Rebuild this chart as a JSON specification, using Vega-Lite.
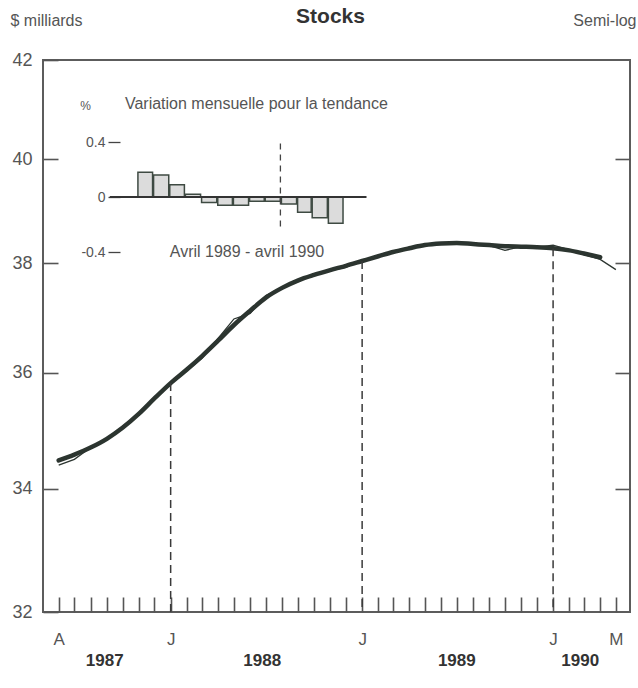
{
  "$schema": "https://vega.github.io/schema/vega-lite/v6.json",
  "width": 587,
  "height": 552,
  "autosize": {"type": "none"},
  "padding": {"left": 43, "top": 60, "right": 8, "bottom": 76},
  "background": "white",
  "config": {
    "font": "Liberation Sans",
    "view": {"stroke": "#5c5c5c", "strokeWidth": 2},
    "axis": {"grid": false, "domain": false, "labelFont": "Liberation Sans", "titleFont": "Liberation Sans"}
  },
  "datasets": {
    "series": [
      {"date": "1987-06-01", "trend": 34.48, "actual": 34.40},
      {"date": "1987-07-01", "trend": 34.58, "actual": 34.50},
      {"date": "1987-08-01", "trend": 34.70, "actual": 34.70},
      {"date": "1987-09-01", "trend": 34.85, "actual": 34.84},
      {"date": "1987-10-01", "trend": 35.04, "actual": 35.06},
      {"date": "1987-11-01", "trend": 35.28, "actual": 35.27},
      {"date": "1987-12-01", "trend": 35.55, "actual": 35.57},
      {"date": "1988-01-01", "trend": 35.82, "actual": 35.80},
      {"date": "1988-02-01", "trend": 36.06, "actual": 36.04},
      {"date": "1988-03-01", "trend": 36.30, "actual": 36.26},
      {"date": "1988-04-01", "trend": 36.58, "actual": 36.62},
      {"date": "1988-05-01", "trend": 36.86, "actual": 36.97},
      {"date": "1988-06-01", "trend": 37.12, "actual": 37.07},
      {"date": "1988-07-01", "trend": 37.36, "actual": 37.40},
      {"date": "1988-08-01", "trend": 37.54, "actual": 37.55},
      {"date": "1988-09-01", "trend": 37.68, "actual": 37.66},
      {"date": "1988-10-01", "trend": 37.78, "actual": 37.80},
      {"date": "1988-11-01", "trend": 37.87, "actual": 37.86},
      {"date": "1988-12-01", "trend": 37.95, "actual": 37.92},
      {"date": "1989-01-01", "trend": 38.04, "actual": 38.06},
      {"date": "1989-02-01", "trend": 38.13, "actual": 38.12},
      {"date": "1989-03-01", "trend": 38.21, "actual": 38.23},
      {"date": "1989-04-01", "trend": 38.28, "actual": 38.29},
      {"date": "1989-05-01", "trend": 38.34, "actual": 38.33},
      {"date": "1989-06-01", "trend": 38.37, "actual": 38.38},
      {"date": "1989-07-01", "trend": 38.38, "actual": 38.37},
      {"date": "1989-08-01", "trend": 38.36, "actual": 38.38},
      {"date": "1989-09-01", "trend": 38.34, "actual": 38.33},
      {"date": "1989-10-01", "trend": 38.32, "actual": 38.24},
      {"date": "1989-11-01", "trend": 38.31, "actual": 38.31},
      {"date": "1989-12-01", "trend": 38.30, "actual": 38.30},
      {"date": "1990-01-01", "trend": 38.28, "actual": 38.34},
      {"date": "1990-02-01", "trend": 38.24, "actual": 38.25},
      {"date": "1990-03-01", "trend": 38.18, "actual": 38.16},
      {"date": "1990-04-01", "trend": 38.11, "actual": 38.07},
      {"date": "1990-05-01", "trend": null, "actual": 37.88}
    ],
    "janlines": [
      {"date": "1988-01-01", "level": 35.82},
      {"date": "1989-01-01", "level": 38.04},
      {"date": "1990-01-01", "level": 38.28}
    ],
    "changes": [
      {"month": "1989-04-01", "pct": 0.18},
      {"month": "1989-05-01", "pct": 0.16},
      {"month": "1989-06-01", "pct": 0.09},
      {"month": "1989-07-01", "pct": 0.02},
      {"month": "1989-08-01", "pct": -0.04},
      {"month": "1989-09-01", "pct": -0.06},
      {"month": "1989-10-01", "pct": -0.06},
      {"month": "1989-11-01", "pct": -0.03},
      {"month": "1989-12-01", "pct": -0.03},
      {"month": "1990-01-01", "pct": -0.05},
      {"month": "1990-02-01", "pct": -0.11},
      {"month": "1990-03-01", "pct": -0.15},
      {"month": "1990-04-01", "pct": -0.19}
    ]
  },
  "layer": [
    {
      "layer": [
        {
          "data": {"name": "series"},
          "mark": {"type": "line", "color": "#2c3530", "strokeWidth": 4.5, "strokeCap": "round", "interpolate": "monotone"},
          "encoding": {
            "x": {
              "field": "date", "type": "temporal",
              "scale": {"type": "utc", "domain": [{"year": 1987, "month": 5, "date": 2, "utc": true}, {"year": 1990, "month": 5, "date": 28, "utc": true}]},
              "axis": {
                "orient": "bottom", "title": null,
                "tickCount": {"interval": "month", "step": 1},
                "tickSize": -15, "tickColor": "#555", "tickWidth": 1.6,
                "labelPadding": 34, "labelFontSize": 17, "labelColor": "#555",
                "labelOverlap": false, "labelFlush": false, "labelAlign": "center",
                "labelExpr": "utcFormat(datum.value, '%Y-%m') == '1987-06' ? 'A' : (utcmonth(datum.value) == 0 ? 'J' : (utcFormat(datum.value, '%Y-%m') == '1990-05' ? 'M' : ''))"
              }
            },
            "y": {
              "field": "trend", "type": "quantitative",
              "scale": {"type": "log", "domain": [32, 42], "nice": false},
              "axis": {
                "orient": "left", "values": [32, 34, 36, 38, 40, 42], "format": "d",
                "tickSize": -15, "tickColor": "#555", "tickWidth": 1.6,
                "labelPadding": 26, "labelFontSize": 18, "labelColor": "#555",
                "labelOverlap": false, "labelFlush": false,
                "title": "$ milliards", "titleAngle": 0, "titleAlign": "left", "titleBaseline": "alphabetic",
                "titleX": -33, "titleY": -35, "titleFontSize": 16, "titleFontWeight": "normal", "titleColor": "#555"
              }
            }
          }
        },
        {
          "data": {"name": "series"},
          "mark": {"type": "line", "color": "#2c3530", "strokeWidth": 1.3},
          "encoding": {
            "x": {
              "field": "date", "type": "temporal",
              "scale": {"type": "utc", "domain": [{"year": 1987, "month": 5, "date": 2, "utc": true}, {"year": 1990, "month": 5, "date": 28, "utc": true}]},
              "axis": {
                "orient": "bottom", "title": null, "ticks": false,
                "values": [
                  {"year": 1987, "month": 8, "date": 27, "utc": true},
                  {"year": 1988, "month": 6, "date": 23, "utc": true},
                  {"year": 1989, "month": 6, "date": 30, "utc": true},
                  {"year": 1990, "month": 2, "date": 21, "utc": true}
                ],
                "labelExpr": "utcFormat(datum.value, '%Y')",
                "labelPadding": 40, "labelFontSize": 17, "labelFontWeight": "bold", "labelColor": "#333",
                "labelOverlap": false, "labelFlush": false
              }
            },
            "y": {
              "field": "actual", "type": "quantitative",
              "scale": {"type": "log", "domain": [32, 42], "nice": false},
              "axis": {
                "orient": "right", "values": [34, 36, 38, 40], "labels": false,
                "tickSize": -15, "tickColor": "#555", "tickWidth": 1.6,
                "title": "Semi-log", "titleAngle": 0, "titleAlign": "right", "titleBaseline": "alphabetic",
                "titleX": 6, "titleY": -35, "titleFontSize": 16, "titleFontWeight": "normal", "titleColor": "#555"
              }
            }
          }
        },
        {
          "data": {"name": "janlines"},
          "mark": {"type": "rule", "color": "#3a3a3a", "strokeWidth": 1.5, "strokeDash": [8, 5]},
          "encoding": {
            "x": {
              "field": "date", "type": "temporal",
              "scale": {"type": "utc", "domain": [{"year": 1987, "month": 5, "date": 2, "utc": true}, {"year": 1990, "month": 5, "date": 28, "utc": true}]},
              "axis": {
                "orient": "top", "labels": false, "ticks": false,
                "title": "Stocks", "titleX": 287, "titleY": -38, "titleAlign": "center", "titleBaseline": "alphabetic",
                "titleFontSize": 21, "titleFontWeight": "bold", "titleColor": "#333"
              }
            },
            "y": {"field": "level", "type": "quantitative", "scale": {"type": "log", "domain": [32, 42], "nice": false}, "axis": null},
            "y2": {"datum": 32}
          }
        }
      ],
      "resolve": {"axis": {"x": "independent", "y": "independent"}}
    },
    {
      "layer": [
        {
          "data": {"name": "changes"},
          "mark": {"type": "bar", "fill": "#dcdcdc", "stroke": "#3e4a42", "strokeWidth": 1.5},
          "encoding": {
            "x": {
              "field": "month", "timeUnit": "utcyearmonth", "type": "temporal",
              "scale": {"type": "utc", "domain": [{"year": 1988, "month": 10, "date": 3, "utc": true}, {"year": 1991, "month": 11, "date": 2, "utc": true}]},
              "axis": null
            },
            "y": {
              "field": "pct", "type": "quantitative",
              "scale": {"domain": [-3.018, 0.9964], "nice": false, "zero": false},
              "axis": {
                "orient": "left", "offset": -77, "values": [-0.4, 0, 0.4],
                "labelExpr": "datum.value == 0 ? '0' : (datum.value > 0 ? '0.4' : '-0.4')",
                "tickSize": 12, "tickColor": "#444", "tickWidth": 1.3,
                "labelPadding": 3, "labelFontSize": 14, "labelColor": "#555",
                "labelOverlap": false, "labelFlush": false,
                "title": "%", "titleAngle": 0, "titleAlign": "center", "titleBaseline": "middle",
                "titleX": -35, "titleY": 45, "titleFontSize": 12, "titleFontWeight": "normal", "titleColor": "#555"
              }
            }
          }
        },
        {
          "data": {"values": [{}]},
          "mark": {"type": "rule", "color": "#333", "strokeWidth": 2},
          "encoding": {
            "x": {"datum": {"year": 1989, "month": 2, "date": 8, "utc": true}, "type": "temporal"},
            "x2": {"datum": {"year": 1990, "month": 6, "date": 15, "utc": true}},
            "y": {"datum": 0, "type": "quantitative"}
          }
        },
        {
          "data": {"values": [{}]},
          "mark": {"type": "rule", "color": "#444", "strokeWidth": 1.3, "strokeDash": [6, 5]},
          "encoding": {
            "x": {"datum": {"year": 1990, "month": 1, "date": 1, "utc": true}, "type": "temporal"},
            "y": {"datum": 0.39, "type": "quantitative"},
            "y2": {"datum": -0.24}
          }
        },
        {
          "data": {"values": [{}]},
          "mark": {"type": "text", "text": "Variation mensuelle pour la tendance", "align": "left", "baseline": "middle", "fontSize": 16, "color": "#555", "font": "Liberation Sans"},
          "encoding": {
            "x": {"datum": {"year": 1989, "month": 3, "date": 9, "utc": true}, "type": "temporal"},
            "y": {"datum": 0.68, "type": "quantitative"}
          }
        },
        {
          "data": {"values": [{}]},
          "mark": {"type": "text", "text": "Avril 1989 - avril 1990", "align": "center", "baseline": "middle", "fontSize": 16, "color": "#555", "font": "Liberation Sans"},
          "encoding": {
            "x": {"datum": {"year": 1989, "month": 10, "date": 29, "utc": true}, "type": "temporal"},
            "y": {"datum": -0.4, "type": "quantitative"}
          }
        }
      ]
    }
  ],
  "resolve": {"scale": {"x": "independent", "y": "independent"}, "axis": {"x": "independent", "y": "independent"}}
}
